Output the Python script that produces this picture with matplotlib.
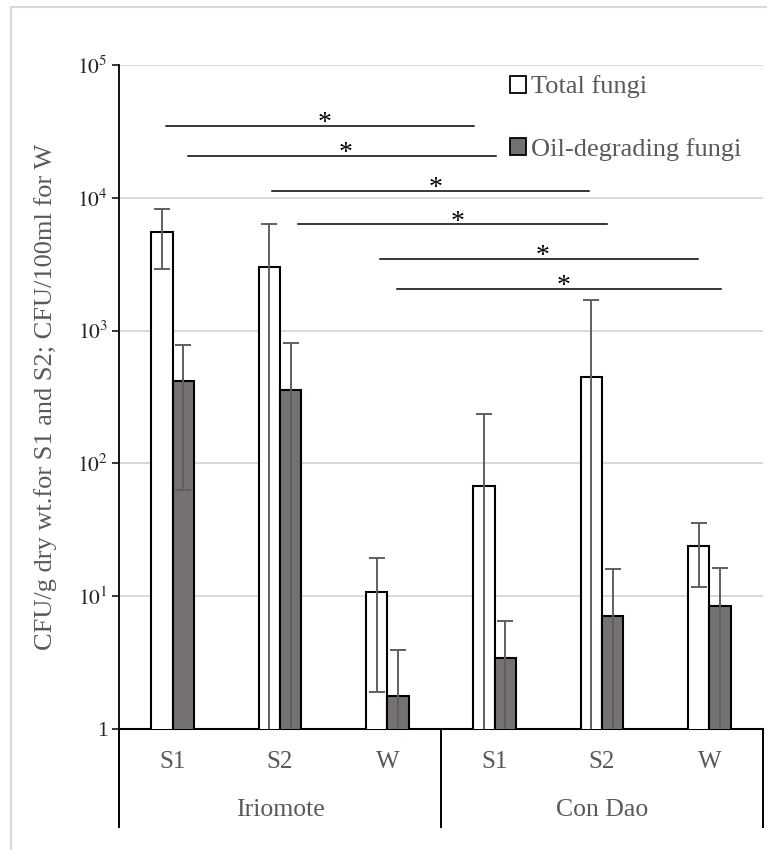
"""Fungal counts (total vs oil-degrading) at Iriomote and Con Dao, log scale."""
import matplotlib.pyplot as plt
import numpy as np
from matplotlib.patches import Patch, Rectangle
from matplotlib.transforms import blended_transform_factory

plt.rcParams["font.family"] = ["Liberation Serif", "DejaVu Serif"]
plt.rcParams["mathtext.fontset"] = "stix"

TEXT_GREY = "#595959"
DARK_FILL = "#767171"
ERR_COLOR = "#5f5f5f"
GRID = "#d9d9d9"

SITES = ["Iriomote", "Con Dao"]
SAMPLES = ["S1", "S2", "W", "S1", "S2", "W"]

TOTAL = [5550, 3030, 10.7, 67, 450, 23.7]
TOTAL_ERR = [2650, 3300, 8.8, 169, 1256, 12]
OIL = [418, 357, 1.76, 3.4, 7.1, 8.4]
OIL_ERR = [355, 450, 2.17, 3.13, 9.0, 8.0]

# significance brackets: start / end (category units) and height
SIG_X0 = [-0.06, 0.14, 0.93, 1.17, 1.93, 2.09]
SIG_X1 = [2.81, 3.01, 3.88, 4.05, 4.89, 5.11]
SIG_Y = [35000, 20700, 11200, 6300, 3460, 2050]

YTICKS = [1, 10, 100, 1000, 10000, 100000]
YTICK_LABELS = ["1", "$10^{1}$", "$10^{2}$", "$10^{3}$", "$10^{4}$", "$10^{5}$"]


def main():
    fig = plt.figure(figsize=(7.67, 8.5), dpi=100)
    fig.patches.append(Rectangle((0.0143, -0.05), 1.2, 1.0418, transform=fig.transFigure,
                                 facecolor="none", edgecolor=GRID, linewidth=1.5))
    ax = fig.add_axes([0.1551, 0.1424, 0.8397, 0.7811])

    x = np.arange(len(SAMPLES))
    w = 0.2
    ax.bar(x - w / 2, TOTAL, w, color="white", edgecolor="black", linewidth=1.5, zorder=3)
    ax.bar(x + w / 2, OIL, w, color=DARK_FILL, edgecolor="black", linewidth=1.5, zorder=3)
    ax.errorbar(x - w / 2, TOTAL, yerr=TOTAL_ERR, fmt="none", ecolor=ERR_COLOR,
                elinewidth=1.4, capsize=5.6, capthick=1.4, zorder=4)
    ax.errorbar(x + w / 2, OIL, yerr=OIL_ERR, fmt="none", ecolor=ERR_COLOR,
                elinewidth=1.4, capsize=5.6, capthick=1.4, zorder=4)

    ax.set_yscale("log")
    ax.set_ylim(1, 1e5)
    ax.set_xlim(-0.5, 5.5)
    ax.set_yticks(YTICKS)
    ax.set_yticklabels(YTICK_LABELS, fontsize=15.5, color="#262626")
    ax.yaxis.set_minor_locator(plt.NullLocator())
    ax.tick_params(axis="y", direction="out", length=5, width=1.1, color="black", pad=3)
    ax.grid(True, axis="y", color=GRID, linewidth=1.4, zorder=0)

    ax.set_xticks(x)
    ax.set_xticklabels(SAMPLES, fontsize=18, color=TEXT_GREY)
    ax.tick_params(axis="x", length=0, pad=16)

    for side in ("top", "right"):
        ax.spines[side].set_visible(False)
    ax.spines["left"].set_linewidth(1.3)
    ax.spines["bottom"].set_linewidth(1.5)

    # two-level category axis: separators and site names
    trans = blended_transform_factory(ax.transData, ax.transAxes)
    for xs in (-0.5, 2.5, 5.5):
        ax.plot([xs, xs], [0, -0.1476], transform=trans, color="black", linewidth=1.4,
                clip_on=False)
    for i, site in enumerate(SITES):
        ax.text(1 + 3 * i, -0.122, site, transform=trans, ha="center", va="center",
                fontsize=18.5, color=TEXT_GREY)

    for x0, x1, y in zip(SIG_X0, SIG_X1, SIG_Y):
        ax.plot([x0, x1], [y, y], color="black", linewidth=1.1, zorder=5)
        ax.annotate("*", ((x0 + x1) / 2 + 0.04, y), xytext=(0, -3), textcoords="offset points",
                    ha="center", va="baseline", fontsize=20, color="black")

    ax.set_ylabel("CFU/g dry wt.for S1 and S2; CFU/100ml for W", fontsize=19,
                  color=TEXT_GREY, labelpad=14)

    handles = [Patch(facecolor="white", edgecolor="black", linewidth=1.3),
               Patch(facecolor=DARK_FILL, edgecolor="black", linewidth=1.3)]
    leg = ax.legend(handles, ["Total fungi", "Oil-degrading fungi"], loc="upper left",
                    bbox_to_anchor=(0.57, 1.02), frameon=False, fontsize=19,
                    handlelength=0.6, handleheight=0.6, handletextpad=0.2,
                    labelspacing=1.5)
    for t in leg.get_texts():
        t.set_color(TEXT_GREY)

    fig.savefig("out.png", dpi=100, facecolor="white")
    plt.close(fig)


if __name__ == "__main__":
    main()
